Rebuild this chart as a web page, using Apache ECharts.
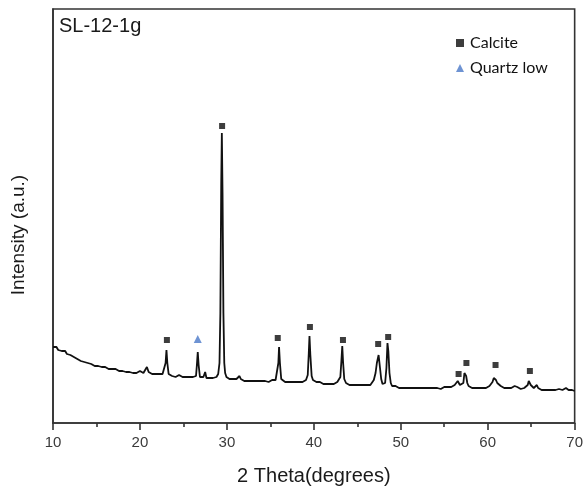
<!DOCTYPE html>
<html>
<head>
<meta charset="utf-8">
<title>SL-12-1g XRD</title>
<script src="https://cdn.jsdelivr.net/npm/echarts@6/dist/echarts.min.js"></script>
<style>
  html, body { margin: 0; padding: 0; background: #fff; }
  #chart { width: 586px; height: 491px; }
</style>
</head>
<body>
<div id="chart"></div>
<script>
// Diffraction scan: 2θ (degrees) and intensity (a.u.)
const twoTheta = [
  10.0,10.2,10.4,10.6,10.8,11.0,11.2,11.4,11.6,11.8,12.0,12.2,12.4,12.6,12.8,13.0,13.2,13.4,13.6,13.8,
  14.0,14.2,14.4,14.6,14.8,15.0,15.2,15.4,15.6,15.8,16.0,16.2,16.4,16.6,16.8,17.0,17.2,17.4,17.6,17.8,
  18.0,18.2,18.4,18.6,18.8,19.0,19.2,19.4,19.6,19.8,20.0,20.2,20.4,20.6,20.8,21.0,21.2,21.4,21.6,21.8,
  22.0,22.2,22.4,22.6,22.8,22.95,23.05,23.15,23.3,23.5,23.7,23.9,24.1,24.3,24.5,24.7,24.9,25.1,25.3,25.5,
  25.7,25.9,26.1,26.3,26.45,26.55,26.65,26.75,26.9,27.1,27.3,27.5,27.65,27.8,28.0,28.2,28.4,28.6,28.8,29.0,
  29.15,29.25,29.35,29.42,29.5,29.6,29.7,29.8,29.95,30.1,30.3,30.5,30.7,30.9,31.1,31.3,31.45,31.6,31.8,32.0,
  32.2,32.4,32.6,32.8,33.0,33.2,33.4,33.6,33.8,34.0,34.2,34.4,34.6,34.8,35.0,35.2,35.4,35.6,35.8,35.92,
  36.0,36.1,36.25,36.45,36.7,36.9,37.1,37.3,37.5,37.7,37.9,38.1,38.3,38.5,38.7,38.9,39.1,39.3,39.42,39.5,
  39.6,39.75,39.9,40.1,40.3,40.5,40.7,40.9,41.1,41.3,41.5,41.7,41.9,42.1,42.3,42.5,42.7,42.9,43.05,43.17,
  43.27,43.37,43.5,43.7,43.9,44.1,44.3,44.5,44.7,44.9,45.1,45.3,45.5,45.7,45.9,46.1,46.3,46.5,46.7,46.9,
  47.1,47.25,47.45,47.6,47.75,47.9,48.05,48.2,48.35,48.47,48.57,48.7,48.85,49.0,49.2,49.4,49.6,49.8,50.0,50.2,
  50.4,50.6,50.8,51.0,51.2,51.4,51.6,51.8,52.0,52.2,52.4,52.6,52.8,53.0,53.2,53.4,53.6,53.8,54.0,54.2,
  54.4,54.6,54.8,55.0,55.2,55.4,55.6,55.8,56.0,56.2,56.4,56.55,56.65,56.8,57.0,57.2,57.32,57.42,57.52,57.65,
  57.8,58.0,58.2,58.4,58.6,58.8,59.0,59.2,59.4,59.6,59.8,60.0,60.2,60.4,60.55,60.7,60.8,60.95,61.1,61.3,
  61.5,61.7,61.9,62.1,62.3,62.5,62.7,62.9,63.1,63.25,63.4,63.6,63.8,64.0,64.2,64.4,64.6,64.72,64.82,64.95,
  65.1,65.3,65.5,65.65,65.8,66.0,66.2,66.4,66.6,66.8,67.0,67.2,67.4,67.6,67.8,68.0,68.2,68.4,68.6,68.8,
  69.0,69.15,69.3,69.5,69.7,69.85,70.0
];
const intensity = [
  76,75,76,73,73,72,71,72,69,68,68,66,66,64,64,63,62,62,61,60,
  60,59,59,58,57,58,57,56,56,55,56,55,54,55,54,53,54,53,52,53,
  52,52,51,52,51,51,50,51,50,51,52,51,50,52,56,51,50,49,50,49,
  48,49,48,49,50,60,73,60,49,48,47,48,46,47,48,47,46,47,46,47,
  46,47,46,45,47,58,71,58,46,45,46,51,45,44,45,44,45,45,46,49,
  60,110,240,290,230,110,60,50,46,45,44,45,44,43,44,45,47,44,43,42,
  43,42,41,42,41,42,41,42,41,42,41,42,42,41,42,43,42,43,44,60,
  76,60,44,42,41,40,41,40,41,40,41,42,41,42,41,42,43,48,70,87,
  68,47,43,42,41,40,41,40,39,40,39,40,39,40,39,40,41,42,46,62,
  77,60,44,40,39,38,39,38,39,38,39,38,37,38,37,38,37,38,40,43,
  50,60,68,56,44,39,38,40,55,80,72,50,40,37,36,37,36,35,36,35,
  36,35,34,35,34,35,34,35,34,35,34,35,34,35,34,35,36,35,34,35,
  35,34,35,36,35,36,37,36,37,38,39,42,41,38,37,40,50,52,47,40,
  37,36,35,36,35,36,35,36,35,36,35,36,37,38,41,45,46,43,40,38,
  37,36,35,36,35,36,35,36,37,39,36,35,34,35,35,36,38,42,41,38,
  36,35,37,38,35,34,33,34,33,34,33,34,33,34,33,33,34,33,33,34,
  35,34,33,32,33,32,32
];

// Phase identification markers (placed just above each reflection)
const calcitePos  = [23.1, 29.45, 35.85, 39.55, 43.35, 47.4, 48.55, 56.65, 57.55, 60.9, 64.85];
const calciteMark = [83, 297, 85, 96, 83, 79, 86, 49, 60, 58, 52];
const quartzPos   = [26.65];
const quartzMark  = [84];

const xTicks = { min: 10, max: 70, step: 10 };

const scan = twoTheta.map((t, i) => [t, intensity[i]]);
const calcite = calcitePos.map((t, i) => [t, calciteMark[i]]);
const quartz = quartzPos.map((t, i) => [t, quartzMark[i]]);

const chart = echarts.init(document.getElementById('chart'), null, { renderer: 'canvas' });
chart.setOption({
  animation: false,
  backgroundColor: '#ffffff',
  title: {
    text: 'SL-12-1g',
    left: 59, top: 16, padding: 0,
    textStyle: { fontFamily: 'Liberation Sans, Arial, sans-serif', fontSize: 20, fontWeight: 'normal', color: '#1a1a1a' }
  },
  legend: {
    orient: 'vertical',
    left: 456, top: 35, padding: 0,
    itemWidth: 8, itemHeight: 8, itemGap: 9,
    data: [
      { name: 'Calcite', icon: 'rect' },
      { name: 'Quartz low', icon: 'triangle' }
    ],
    textStyle: { fontFamily: 'Lato, sans-serif', fontSize: 16, lineHeight: 16, color: '#111', padding: [0, 0, 0, 1] }
  },
  graphic: [{
    type: 'text',
    x: 19, y: 235,
    rotation: Math.PI / 2,
    style: {
      text: 'Intensity (a.u.)',
      fontFamily: 'Liberation Sans, Arial, sans-serif',
      fontSize: 19,
      fill: '#1a1a1a',
      align: 'center',
      verticalAlign: 'middle'
    }
  }],
  grid: {
    left: 53, right: 10.5, top: 9, bottom: 68,
    show: true, borderColor: '#333', borderWidth: 1.6, backgroundColor: 'transparent'
  },
  xAxis: {
    type: 'value',
    min: xTicks.min, max: xTicks.max, interval: xTicks.step,
    name: '2 Theta(degrees)',
    nameLocation: 'middle', nameGap: 43,
    nameTextStyle: { fontFamily: 'Liberation Sans, Arial, sans-serif', fontSize: 20, color: '#1a1a1a' },
    axisLine: { show: true, lineStyle: { color: '#333', width: 1.6 } },
    axisTick: { show: true, length: 7, lineStyle: { color: '#333', width: 1.6 } },
    minorTick: { show: true, splitNumber: 2, length: 4, lineStyle: { color: '#333', width: 1.6 } },
    axisLabel: { margin: 12, fontFamily: 'Liberation Sans, Arial, sans-serif', fontSize: 15, color: '#3a3a3a' },
    splitLine: { show: false }
  },
  yAxis: {
    type: 'value',
    min: 0, max: 414,
    axisLine: { show: true, lineStyle: { color: '#333', width: 1.6 } },
    axisTick: { show: false },
    axisLabel: { show: false },
    splitLine: { show: false }
  },
  series: [
    {
      name: 'SL-12-1g',
      type: 'line',
      data: scan,
      showSymbol: false,
      smooth: false,
      lineStyle: { color: '#111', width: 1.8 },
      z: 2
    },
    {
      name: 'Calcite',
      type: 'scatter',
      data: calcite,
      symbol: 'rect',
      symbolSize: 6,
      itemStyle: { color: '#0d0d0d' },
      z: 3
    },
    {
      name: 'Quartz low',
      type: 'scatter',
      data: quartz,
      symbol: 'triangle',
      symbolSize: 8,
      itemStyle: { color: '#4a78c8' },
      z: 3
    }
  ]
});
</script>
</body>
</html>
